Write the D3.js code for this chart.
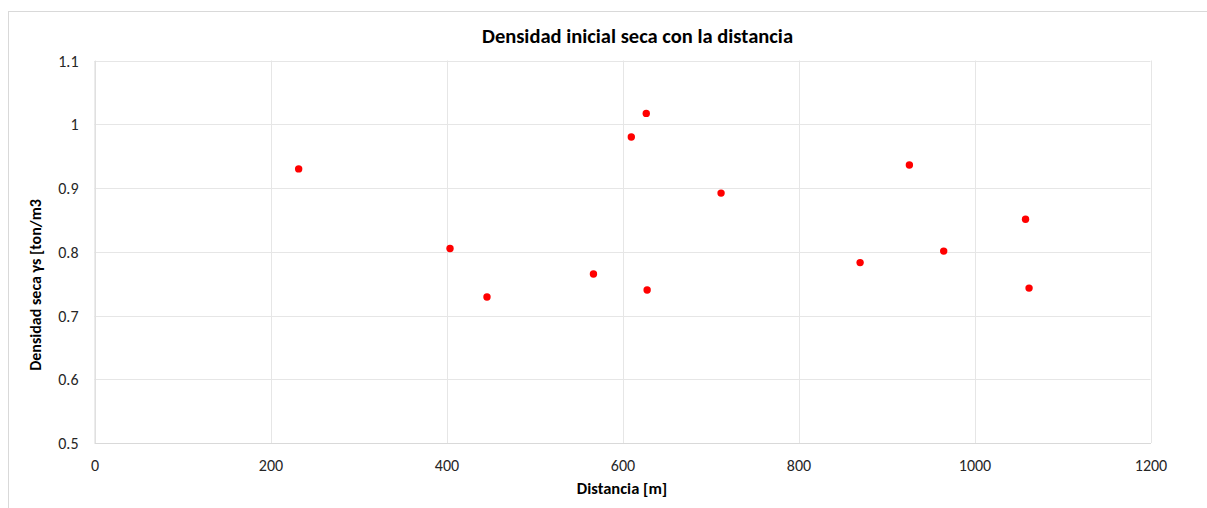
<!DOCTYPE html>
<html>
<head>
<meta charset="utf-8">
<script src="https://cdn.jsdelivr.net/npm/d3@7"></script>
<style>
  html, body { margin: 0; padding: 0; background: #ffffff; }
  svg { display: block; font-family: Carlito, Lato, "Open Sans", sans-serif; }
</style>
</head>
<body>
<svg id="chart" width="1207" height="508"></svg>
<script>
// Data
const distance = [232, 404, 446, 567, 610, 627, 628, 712, 870, 926, 965, 1058, 1062];
const density  = [0.930, 0.805, 0.729, 0.765, 0.980, 1.017, 0.740, 0.892, 0.783, 0.936, 0.801, 0.851, 0.743];
const xTicks = [0, 200, 400, 600, 800, 1000, 1200];
const yTicks = [0.5, 0.6, 0.7, 0.8, 0.9, 1.0, 1.1];
const titleText = "Densidad inicial seca con la distancia";
const xLabel = "Distancia [m]";
const yLabel = "Densidad seca  γs [ton/m3";

const svg = d3.select("#chart");

// outer chart border
svg.append("rect")
  .attr("x", 8.5).attr("y", 11.5)
  .attr("width", 1210).attr("height", 510)
  .attr("fill", "#ffffff")
  .attr("stroke", "#d9d9d9").attr("stroke-width", 1);

const plot = { left: 94.5, right: 1150.5, top: 60.5, bottom: 443 };

const x = d3.scaleLinear().domain([0, 1200]).range([plot.left, plot.right]);
const y = d3.scaleLinear().domain([0.5, 1.1]).range([plot.bottom, plot.top]);

// gridlines
const grid = svg.append("g");
grid.selectAll(".vg").data(xTicks).enter().append("line")
  .attr("x1", d => Math.round(x(d)) + 0.5).attr("x2", d => Math.round(x(d)) + 0.5)
  .attr("y1", plot.top).attr("y2", plot.bottom)
  .attr("stroke", "#e6e6e6").attr("stroke-width", 1);
grid.selectAll(".hg").data(yTicks).enter().append("line")
  .attr("x1", plot.left).attr("x2", plot.right)
  .attr("y1", d => Math.round(y(d)) + 0.5).attr("y2", d => Math.round(y(d)) + 0.5)
  .attr("stroke", "#e6e6e6").attr("stroke-width", 1);

// axes (tick labels only, Excel style)
const xAxis = d3.axisBottom(x).tickValues(xTicks).tickSize(0).tickPadding(0).tickFormat(d3.format("d"));
const gx = svg.append("g").attr("transform", `translate(0, ${plot.bottom})`).call(xAxis);
gx.select(".domain").attr("stroke", "#d9d9d9");
gx.selectAll("text").attr("font-size", 16).attr("fill", "#262626")
  .attr("dy", null).attr("y", 28).attr("font-family", "Carlito, Lato, 'Open Sans', sans-serif");

const yAxis = d3.axisLeft(y).tickValues(yTicks).tickSize(0).tickPadding(16).tickFormat(d => d === 1 ? "1" : d3.format(".1f")(d));
const gy = svg.append("g").attr("transform", `translate(${plot.left}, 0)`).call(yAxis);
gy.select(".domain").attr("stroke", "#d9d9d9");
gy.selectAll("text").attr("font-size", 16).attr("fill", "#262626")
  .attr("dy", "0.35em").attr("font-family", "Carlito, Lato, 'Open Sans', sans-serif");

// points
svg.append("g").selectAll("circle")
  .data(distance.map((d, i) => [d, density[i]]))
  .enter().append("circle")
  .attr("cx", d => x(d[0])).attr("cy", d => y(d[1]))
  .attr("r", 3.7).attr("fill", "#ff0000");

// title
svg.append("text")
  .attr("x", 637.5).attr("y", 43)
  .attr("text-anchor", "middle")
  .attr("font-size", 20.5).attr("font-weight", "bold").attr("fill", "#000000")
  .text(titleText);

// x label
svg.append("text")
  .attr("x", 622).attr("y", 494)
  .attr("text-anchor", "middle")
  .attr("font-size", 16.5).attr("font-weight", "bold").attr("fill", "#000000")
  .text(xLabel);

// y label
svg.append("text")
  .attr("transform", "translate(41, 285) rotate(-90)")
  .attr("text-anchor", "middle")
  .attr("font-size", 16).attr("font-weight", "bold").attr("fill", "#000000")
  .text(yLabel);
</script>
</body>
</html>
